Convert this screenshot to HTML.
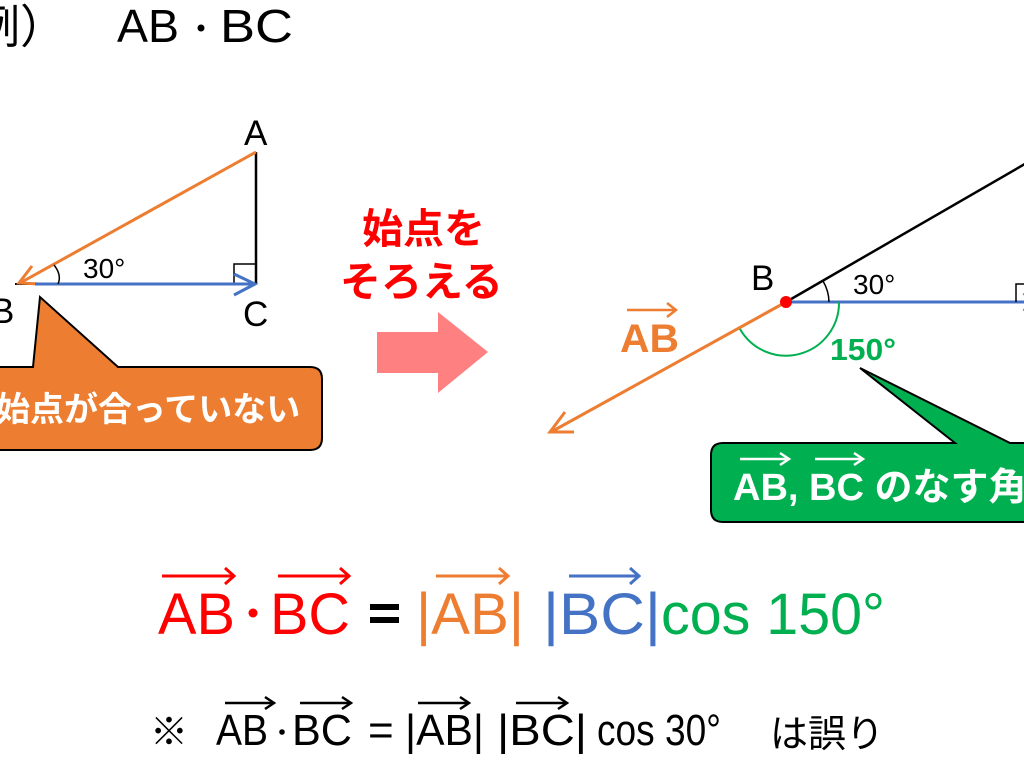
<!DOCTYPE html>
<html><head><meta charset="utf-8"><style>
html,body{margin:0;padding:0;background:#fff;}
svg{display:block;}
text{font-family:"Liberation Sans","Noto Sans CJK JP",sans-serif;}
</style></head><body>
<svg width="1024" height="768" viewBox="0 0 1024 768" xmlns="http://www.w3.org/2000/svg">
<!-- title -->
<text x="-26" y="43" font-size="46" fill="#000">例）</text>
<text x="117" y="42" font-size="46" fill="#000" textLength="62" lengthAdjust="spacingAndGlyphs">AB</text>
<circle cx="201" cy="28" r="3.5" fill="#000"/>
<text x="220" y="42" font-size="46" fill="#000" textLength="73" lengthAdjust="spacingAndGlyphs">BC</text>

<!-- left triangle -->
<line x1="256" y1="152" x2="256" y2="284" stroke="#000" stroke-width="2.5"/>
<polyline points="234,284 234,264 256,264" fill="none" stroke="#000" stroke-width="1.5"/>
<line x1="15" y1="284" x2="40" y2="284" stroke="#000" stroke-width="2"/>
<line x1="256" y1="152" x2="20" y2="283" stroke="#ED7D31" stroke-width="3"/>
<polyline points="32,266 19,283 40,284" fill="none" stroke="#ED7D31" stroke-width="3"/>
<line x1="35" y1="284" x2="255" y2="284" stroke="#4472C4" stroke-width="3"/>
<polyline points="234,274 255,284 234,295" fill="none" stroke="#4472C4" stroke-width="3"/>
<path d="M54,265 Q62,275 58,284" fill="none" stroke="#000" stroke-width="1.5"/>
<text x="83" y="278" font-size="28" fill="#000">30°</text>
<text x="244" y="145" font-size="35" fill="#000">A</text>
<text x="243" y="326" font-size="35" fill="#000">C</text>
<text x="-9" y="323" font-size="35" fill="#000">B</text>

<!-- orange callout -->
<path d="M-10,367 L33,367 L40,297 L118,367 L310,367 Q322,367 322,379 L322,438 Q322,450 310,450 L-10,450 Z" fill="#ED7D31" stroke="#000" stroke-width="2"/>
<text x="-4" y="421" font-size="34" font-weight="bold" fill="#fff">始点が合っていない</text>

<!-- middle -->
<text x="362" y="243" font-size="41" font-weight="bold" fill="#FF0000">始点を</text>
<text x="340" y="296" font-size="41" font-weight="bold" fill="#FF0000">そろえる</text>
<path d="M377,332 L438,332 L438,312 L488,352 L438,393 L438,373 L377,373 Z" fill="#FF8080"/>

<!-- right figure -->
<line x1="786" y1="302" x2="1030" y2="161" stroke="#000" stroke-width="2.5"/>
<line x1="786" y1="302" x2="1024" y2="302" stroke="#4472C4" stroke-width="3"/>
<polyline points="1016,302 1016,284 1024,284" fill="none" stroke="#000" stroke-width="1.5"/>
<polyline points="1024,293 1030,302 1024,311" fill="none" stroke="#4472C4" stroke-width="3"/>
<line x1="786" y1="302" x2="551" y2="432" stroke="#ED7D31" stroke-width="3"/>
<polyline points="565,412 550,432 574,432" fill="none" stroke="#ED7D31" stroke-width="3"/>
<path d="M823,281 A43,43 0 0 1 829,302" fill="none" stroke="#000" stroke-width="1.5"/>
<path d="M839,302 A53,53 0 0 1 740,329" fill="none" stroke="#00B050" stroke-width="2"/>
<circle cx="786" cy="302" r="6" fill="#FF0000"/>
<text x="751" y="290" font-size="35" fill="#000">B</text>
<text x="853" y="294" font-size="28" fill="#000">30°</text>
<text x="620" y="352" font-size="40" font-weight="bold" fill="#ED7D31" textLength="59" lengthAdjust="spacingAndGlyphs">AB</text>
<line x1="627" y1="310" x2="675" y2="310" stroke="#ED7D31" stroke-width="2.5"/>
<polyline points="667,303 676,310 667,317" fill="none" stroke="#ED7D31" stroke-width="2.5"/>
<text x="830" y="360" font-size="31" font-weight="bold" fill="#00B050" textLength="66" lengthAdjust="spacingAndGlyphs">150°</text>

<!-- green callout -->
<path d="M723,443 L955,443 L860,368 L1010,443 L1040,443 L1040,522 L723,522 Q711,522 711,510 L711,455 Q711,443 723,443 Z" fill="#00B050" stroke="#000" stroke-width="2"/>
<text x="733" y="500" font-size="38" font-weight="bold" fill="#fff">AB, BC のなす角</text>
<g stroke="#fff" stroke-width="2.5" fill="none">
<line x1="740" y1="459" x2="788" y2="459"/><polyline points="780,453 789,459 780,465"/>
<line x1="815" y1="459" x2="862" y2="459"/><polyline points="854,453 863,459 854,465"/>
</g>

<!-- formula 1 -->
<g font-size="58">
<text x="158" y="634" fill="#FF0000" textLength="77" lengthAdjust="spacingAndGlyphs">AB</text>
<circle cx="253" cy="613" r="4.5" fill="#FF0000"/>
<text x="270" y="634" fill="#FF0000" textLength="80" lengthAdjust="spacingAndGlyphs">BC</text>
<rect x="370" y="604" width="29" height="6" fill="#000"/>
<rect x="370" y="617" width="29" height="6" fill="#000"/>
<text x="416" y="634" fill="#ED7D31" textLength="108" lengthAdjust="spacingAndGlyphs">|AB|</text>
<text x="543" y="634" fill="#4472C4" textLength="118" lengthAdjust="spacingAndGlyphs">|BC|</text>
<text x="661" y="634" fill="#00B050" textLength="224" lengthAdjust="spacingAndGlyphs">cos 150°</text>
</g>
<g fill="none" stroke-width="3">
<g stroke="#FF0000"><line x1="162" y1="576" x2="234" y2="576"/><polyline points="225,568 234,576 225,584"/>
<line x1="278" y1="576" x2="349" y2="576"/><polyline points="340,568 349,576 340,584"/></g>
<g stroke="#ED7D31"><line x1="436" y1="576" x2="508" y2="576"/><polyline points="499,568 508,576 499,584"/></g>
<g stroke="#4472C4"><line x1="569" y1="576" x2="639" y2="576"/><polyline points="630,568 639,576 630,584"/></g>
</g>

<!-- formula 2 -->
<g font-size="44" fill="#000">
<text x="150" y="745" font-size="38">※</text>
<text x="216" y="745" textLength="52" lengthAdjust="spacingAndGlyphs">AB</text>
<circle cx="282" cy="732" r="2.8" fill="#000"/>
<text x="292" y="745" textLength="60" lengthAdjust="spacingAndGlyphs">BC</text>
<text x="368" y="745">=</text>
<text x="405" y="745" textLength="79" lengthAdjust="spacingAndGlyphs">|AB|</text>
<text x="497" y="745" textLength="90" lengthAdjust="spacingAndGlyphs">|BC|</text>
<text x="597" y="745" textLength="124" lengthAdjust="spacingAndGlyphs">cos 30°</text>
<text x="770" y="747" font-size="38">は誤り</text>
</g>
<g fill="none" stroke="#000" stroke-width="2.5">
<line x1="225" y1="703" x2="273" y2="703"/><polyline points="265,697 274,703 265,709"/>
<line x1="300" y1="703" x2="350" y2="703"/><polyline points="342,697 351,703 342,709"/>
<line x1="418" y1="703" x2="468" y2="703"/><polyline points="460,697 469,703 460,709"/>
<line x1="516" y1="703" x2="566" y2="703"/><polyline points="558,697 567,703 558,709"/>
</g>
</svg>
</body></html>
